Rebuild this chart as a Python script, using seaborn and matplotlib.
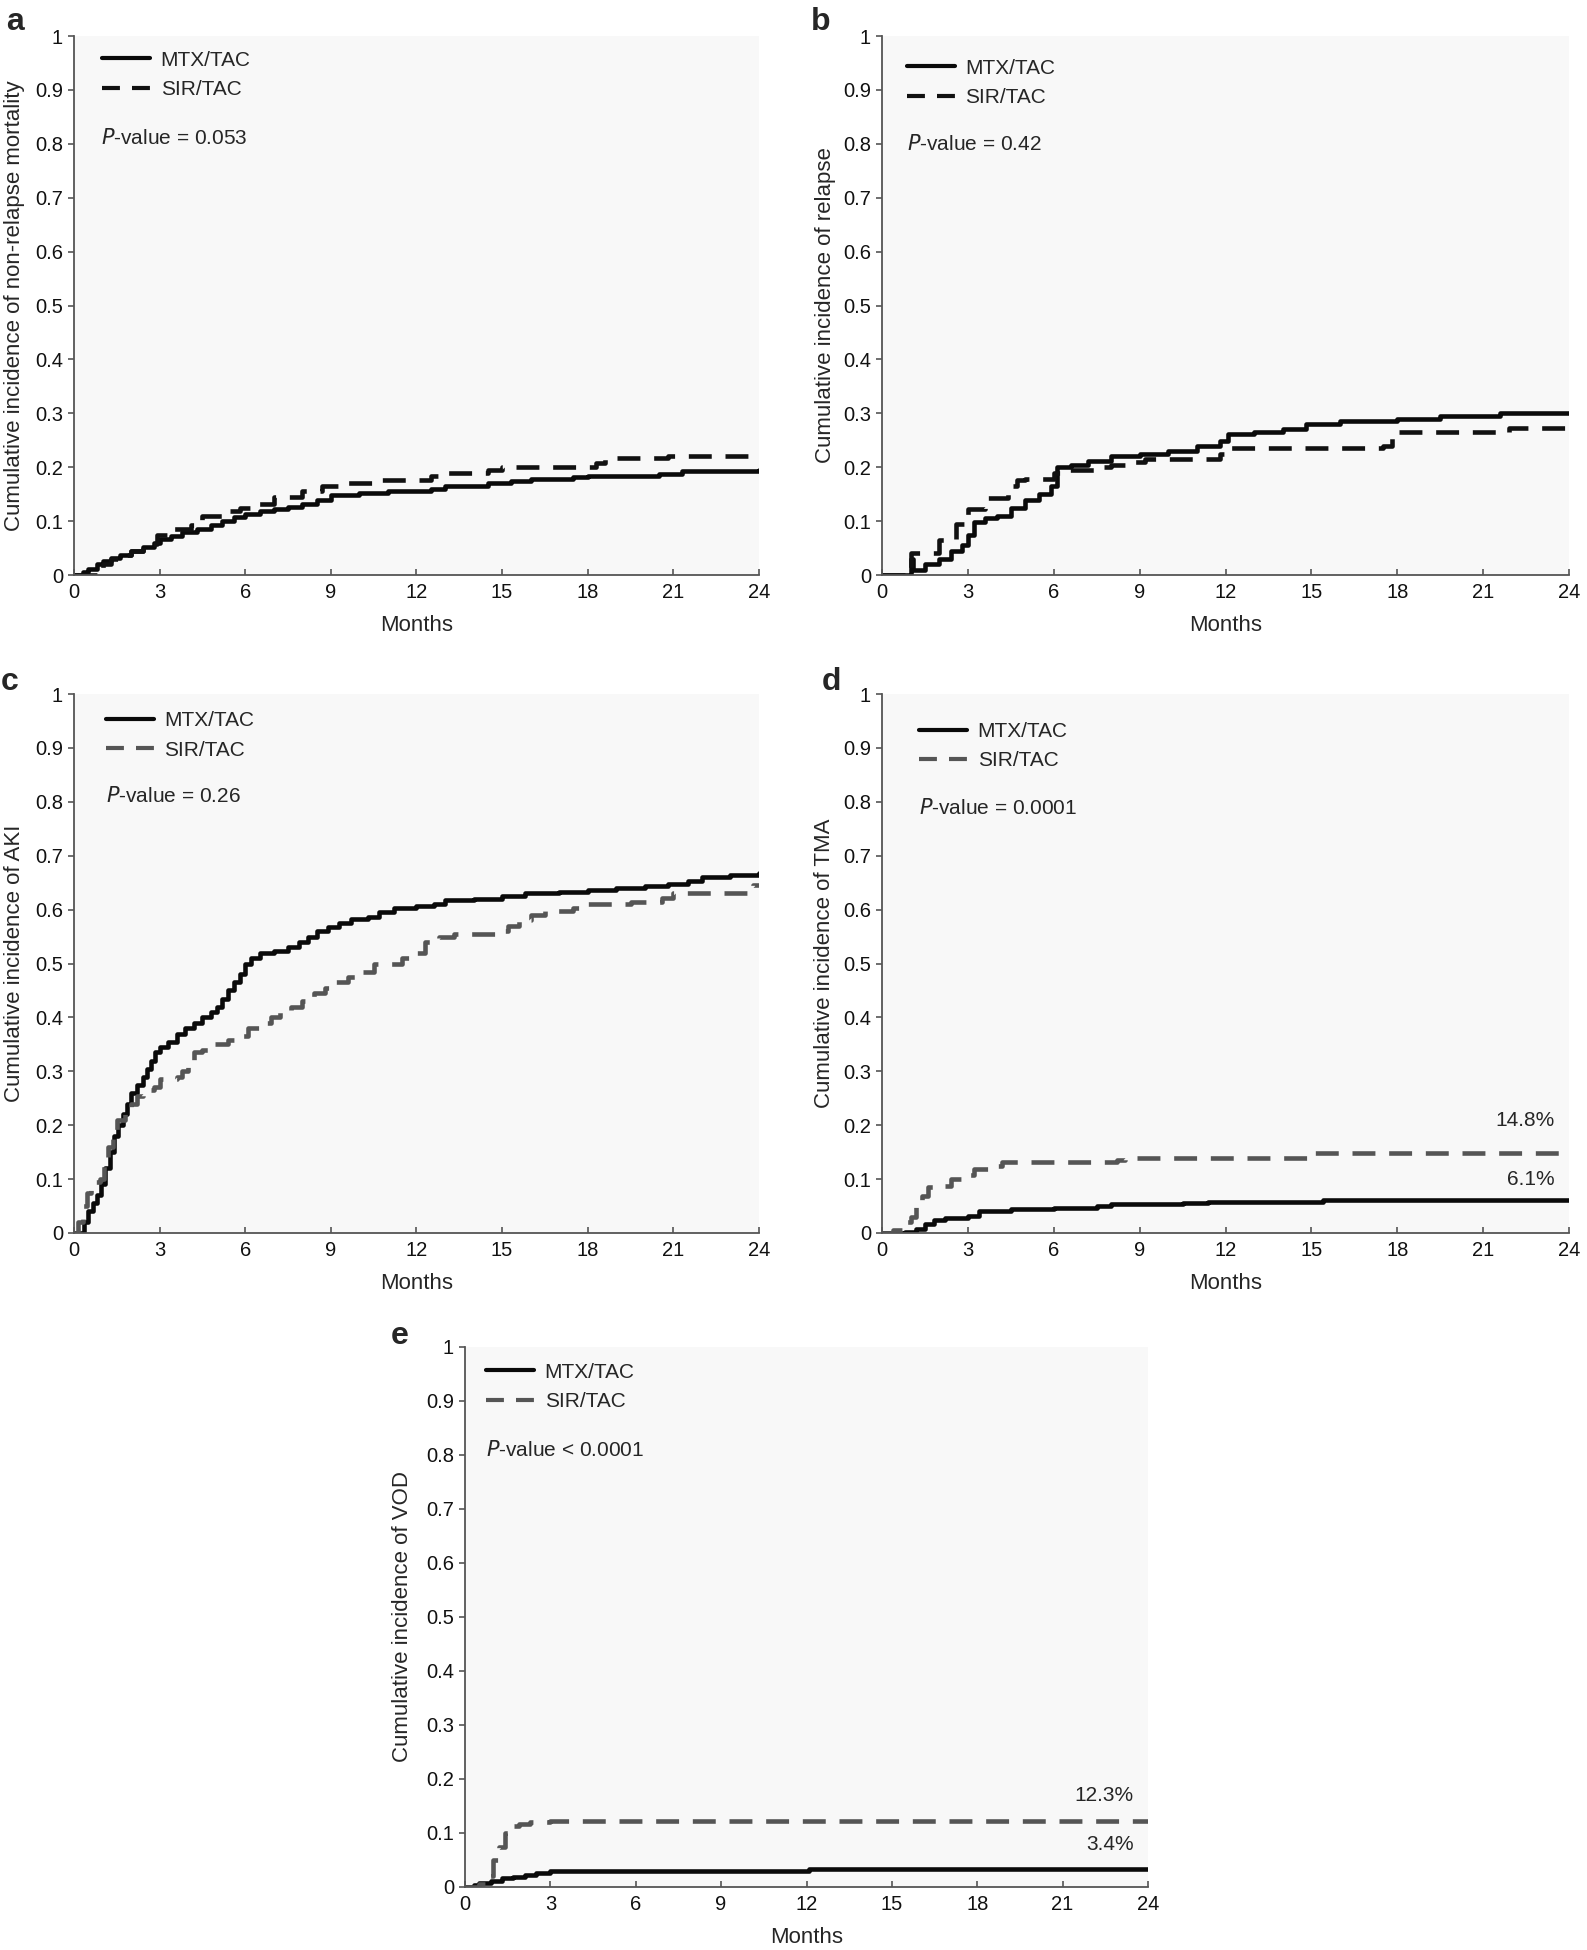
#!/usr/bin/env python3
"""
Incidenza cumulativa MTX/TAC vs SIR/TAC, cinque pannelli a-e.
"""

import matplotlib
matplotlib.use("Agg")
import matplotlib.pyplot as plt
import seaborn as sns

# ---- dati (mesi, incidenza cumulativa) ----
# a: non-relapse mortality
a_mtx_t = [0, 0.3, 0.5, 0.8, 1.0, 1.3, 1.6, 2.0, 2.4, 2.8, 3.0, 3.4, 3.8, 4.3, 4.8, 5.2, 5.6, 6.0,
           6.5, 7.0, 7.5, 8.0, 8.5, 9.0, 10.0, 11.0, 12.5, 13.0, 14.5, 15.3, 16.0, 17.5, 18.0, 20.5, 21.3, 24.0]
a_mtx_y = [0, 0.005, 0.012, 0.02, 0.026, 0.032, 0.038, 0.044, 0.052, 0.06, 0.066, 0.073, 0.079, 0.085,
           0.092, 0.1, 0.107, 0.113, 0.118, 0.122, 0.127, 0.132, 0.14, 0.148, 0.152, 0.156, 0.16, 0.165,
           0.17, 0.175, 0.178, 0.181, 0.184, 0.187, 0.193, 0.195]
a_sir_t = [0, 0.9, 1.0, 1.3, 1.6, 2.0, 2.4, 2.9, 3.5, 4.1, 4.5, 5.3, 5.8, 6.3, 7.0, 8.0, 8.7, 9.3,
           10.5, 12.5, 13.0, 14.5, 15.0, 17.8, 18.3, 18.6, 20.8, 23.6, 24.0]
a_sir_y = [0, 0.008, 0.02, 0.03, 0.037, 0.045, 0.058, 0.075, 0.085, 0.093, 0.11, 0.118, 0.125, 0.132,
           0.145, 0.155, 0.165, 0.17, 0.176, 0.184, 0.19, 0.195, 0.2, 0.2, 0.208, 0.217, 0.22, 0.225, 0.225]

# b: relapse
b_mtx_t = [0, 0.9, 1.0, 1.1, 1.5, 2.0, 2.4, 2.8, 3.0, 3.2, 3.6, 4.0, 4.5, 5.0, 5.5, 5.9, 6.1, 6.6,
           7.2, 8.0, 9.0, 10.0, 11.0, 11.8, 12.1, 13.0, 14.0, 14.8, 16.0, 18.0, 19.5, 21.6, 24.0]
b_mtx_y = [0, 0.0, 0.03, 0.01, 0.02, 0.03, 0.045, 0.055, 0.075, 0.098, 0.105, 0.11, 0.125, 0.14, 0.15,
           0.165, 0.2, 0.205, 0.212, 0.22, 0.225, 0.23, 0.24, 0.248, 0.262, 0.266, 0.27, 0.28, 0.285,
           0.29, 0.295, 0.3, 0.3]
b_sir_t = [0, 0.8, 1.0, 1.5, 2.0, 2.6, 3.0, 3.6, 4.4, 4.7, 5.0, 6.0, 6.5, 7.5, 8.0, 8.5, 9.2,
           11.8, 12.2, 15.0, 17.5, 17.8, 18.0, 21.5, 21.9, 24.0]
b_sir_y = [0, 0.01, 0.04, 0.04, 0.065, 0.095, 0.122, 0.142, 0.165, 0.176, 0.178, 0.19, 0.195, 0.2, 0.205,
           0.21, 0.215, 0.225, 0.236, 0.236, 0.24, 0.255, 0.265, 0.265, 0.273, 0.275]

# c: AKI
c_mtx_t = [0, 0.2, 0.35, 0.5, 0.65, 0.8, 0.95, 1.1, 1.25, 1.4, 1.55, 1.7, 1.85, 2.0, 2.2, 2.4, 2.55,
           2.7, 2.85, 3.0, 3.3, 3.6, 3.9, 4.2, 4.5, 4.8, 5.0, 5.2, 5.4, 5.6, 5.8, 6.0, 6.2, 6.5, 7.0,
           7.5, 7.9, 8.2, 8.5, 8.9, 9.3, 9.7, 10.3, 10.7, 11.2, 12.0, 12.6, 13.0, 14.0, 15.0, 15.8,
           17.0, 18.0, 19.0, 20.0, 20.8, 21.5, 22.0, 23.0, 24.0]
c_mtx_y = [0, 0.0, 0.02, 0.04, 0.055, 0.07, 0.09, 0.12, 0.15, 0.18, 0.2, 0.22, 0.24, 0.26, 0.275,
           0.29, 0.305, 0.32, 0.335, 0.345, 0.355, 0.37, 0.38, 0.39, 0.4, 0.41, 0.42, 0.435, 0.45,
           0.465, 0.48, 0.5, 0.51, 0.52, 0.523, 0.53, 0.54, 0.55, 0.56, 0.568, 0.575, 0.582, 0.587,
           0.595, 0.603, 0.607, 0.61, 0.617, 0.62, 0.625, 0.63, 0.632, 0.636, 0.64, 0.643, 0.648,
           0.653, 0.66, 0.664, 0.668]
c_sir_t = [0, 0.15, 0.3, 0.45, 0.6, 0.9, 1.05, 1.2, 1.35, 1.5, 1.8, 2.0, 2.2, 2.4, 2.8, 3.0, 3.6,
           3.8, 4.0, 4.2, 4.5, 4.9, 5.4, 5.9, 6.1, 6.5, 6.9, 7.2, 7.6, 8.0, 8.4, 8.8, 9.0, 9.6, 10.1,
           10.5, 11.5, 12.0, 12.3, 12.8, 13.3, 14.8, 15.2, 15.6, 16.0, 16.5, 17.5, 18.0, 19.5, 20.6,
           21.0, 23.6, 23.8, 24.0]
c_sir_y = [0, 0.02, 0.05, 0.075, 0.095, 0.1, 0.13, 0.16, 0.19, 0.21, 0.225, 0.24, 0.255, 0.265,
           0.27, 0.285, 0.29, 0.3, 0.32, 0.335, 0.34, 0.35, 0.358, 0.365, 0.38, 0.39, 0.4, 0.41,
           0.42, 0.43, 0.445, 0.455, 0.465, 0.475, 0.485, 0.5, 0.51, 0.52, 0.54, 0.55, 0.555, 0.56,
           0.57, 0.58, 0.59, 0.598, 0.603, 0.61, 0.615, 0.622, 0.63, 0.632, 0.645, 0.645]

# d: TMA
d_mtx_t = [0, 0.8, 1.2, 1.5, 1.8, 2.2, 3.0, 3.4, 4.5, 6.0, 7.5, 8.0, 10.5, 11.4, 15.4, 24.0]
d_mtx_y = [0, 0.002, 0.008, 0.016, 0.025, 0.028, 0.032, 0.04, 0.044, 0.046, 0.05, 0.053, 0.055,
           0.058, 0.061, 0.061]
d_sir_t = [0, 0.4, 0.7, 1.0, 1.2, 1.4, 1.6, 2.0, 2.4, 2.8, 3.2, 3.8, 4.2, 8.2, 8.5, 14.6, 14.9, 24.0]
d_sir_y = [0, 0.005, 0.02, 0.03, 0.05, 0.068, 0.085, 0.088, 0.1, 0.108, 0.118, 0.125, 0.132,
           0.135, 0.14, 0.14, 0.148, 0.148]

# e: VOD
e_mtx_t = [0, 0.3, 0.5, 0.9, 1.3, 1.7, 2.1, 2.5, 3.0, 12.0, 12.1, 24.0]
e_mtx_y = [0, 0.003, 0.007, 0.012, 0.016, 0.019, 0.023, 0.026, 0.03, 0.03, 0.033, 0.034]
e_sir_t = [0, 0.5, 0.8, 1.0, 1.2, 1.4, 1.5, 1.9, 2.3, 3.0, 24.0]
e_sir_y = [0, 0.005, 0.02, 0.05, 0.075, 0.1, 0.113, 0.116, 0.12, 0.123, 0.123]

panel_letters = ["a", "b", "c", "d", "e"]
y_labels = [
    "Cumulative incidence of non-relapse mortality",
    "Cumulative incidence of relapse",
    "Cumulative incidence of AKI",
    "Cumulative incidence of TMA",
    "Cumulative incidence of VOD",
]
p_values = ["0.053", "0.42", "0.26", "0.0001", "0.0001"]
p_signs = ["=", "=", "=", "=", "<"]
series_names = ["MTX/TAC", "SIR/TAC"]
end_labels = [None, None, None, ("14.8%", "6.1%"), ("12.3%", "3.4%")]
end_label_y = [None, None, None, (0.208, 0.10), (0.17, 0.079)]

x_ticks = list(range(0, 25, 3))
y_ticks = [0, 0.1, 0.2, 0.3, 0.4, 0.5, 0.6, 0.7, 0.8, 0.9, 1]
y_tick_labels = ["0", "0.1", "0.2", "0.3", "0.4", "0.5", "0.6", "0.7", "0.8", "0.9", "1"]

curves = [
    (a_mtx_t, a_mtx_y, a_sir_t, a_sir_y),
    (b_mtx_t, b_mtx_y, b_sir_t, b_sir_y),
    (c_mtx_t, c_mtx_y, c_sir_t, c_sir_y),
    (d_mtx_t, d_mtx_y, d_sir_t, d_sir_y),
    (e_mtx_t, e_mtx_y, e_sir_t, e_sir_y),
]

sns.set_style("ticks")
plt.rcParams["font.family"] = ["Liberation Sans", "DejaVu Sans"]

W, H = 1587, 1950
# posizioni dei pannelli in pixel: sinistra, alto, destra, basso
boxes = [
    (74, 36, 759, 575),
    (882, 36, 1569, 575),
    (74, 694, 759, 1233),
    (882, 694, 1569, 1233),
    (465, 1347, 1148, 1887),
]
rects = [[l / W, 1 - b / H, (r - l) / W, (b - t) / H] for l, t, r, b in boxes]
# posizione legenda / p-value (frazione asse)
leg_pos = [(0.02, 1.0), (0.015, 0.985), (0.025, 0.995), (0.033, 0.975), (0.01, 0.998)]
p_pos = [(0.04, 0.81), (0.036, 0.80), (0.047, 0.81), (0.054, 0.788), (0.031, 0.809)]
# centro dell'etichetta y: pixel a sinistra dell'asse
ylab_off = [59, 57, 59, 57, 63]
# lettere dei pannelli (pixel figura)
letter_xy = [(15, 22), (821, 22), (10, 682), (831, 682), (400, 1336)]
sir_colors = ["#111111", "#111111", "#555555", "#555555", "#555555"]

fig = plt.figure(figsize=(W / 100, H / 100), dpi=100)

for i, (mt, my, st, sy) in enumerate(curves):
    ax = fig.add_axes(rects[i])
    ax.set_facecolor("#f8f8f8")
    sns.lineplot(x=mt, y=my, ax=ax, color="#0a0a0a", lw=3.3, drawstyle="steps-post",
                 label=series_names[0], legend=False)
    sns.lineplot(x=st, y=sy, ax=ax, color=sir_colors[i], lw=3.3, drawstyle="steps-post",
                 linestyle=(0, (5.0, 3.0)), label=series_names[1], legend=False)

    ax.set_xlim(0, 24)
    ax.set_ylim(0, 1)
    ax.set_xticks(x_ticks)
    ax.set_yticks(y_ticks)
    ax.set_yticklabels(y_tick_labels)
    ax.tick_params(axis="x", direction="in", length=4, width=1.2, color="#555555",
                   labelsize=14.5, pad=6, labelcolor="#111111")
    ax.tick_params(axis="y", direction="out", length=4.5, width=1.2, color="#555555",
                   labelsize=14.5, pad=3.5, labelcolor="#111111")
    sns.despine(ax=ax)
    for s in ["left", "bottom"]:
        ax.spines[s].set_color("#555555")
        ax.spines[s].set_linewidth(1.3)

    ax.set_xlabel("Months", fontsize=16, labelpad=9)
    ax.set_ylabel(y_labels[i], fontsize=16)
    ax.yaxis.label.set_va("center")
    ax.yaxis.set_label_coords(-ylab_off[i] / (rects[i][2] * W), 0.5)

    leg = ax.legend(loc="upper left", bbox_to_anchor=leg_pos[i], frameon=False, fontsize=15,
                    handlelength=2.3, handletextpad=0.5, labelspacing=0.5, borderaxespad=0.3)
    hl = leg.get_lines()
    hl[0].set_linewidth(3.0)
    hl[1].set_linewidth(3.0)
    hl[1].set_linestyle((0, (4.3, 2.9)))

    ax.text(p_pos[i][0], p_pos[i][1], "$\\mathit{P}$-value " + p_signs[i] + " " + p_values[i],
            transform=ax.transAxes, fontsize=15, va="center", ha="left")

    if end_labels[i] is not None:
        ax.text(23.5, end_label_y[i][0], end_labels[i][0], fontsize=15, ha="right", va="center")
        ax.text(23.5, end_label_y[i][1], end_labels[i][1], fontsize=15, ha="right", va="center")

    # lettera del pannello
    fig.text(letter_xy[i][0] / W, 1 - letter_xy[i][1] / H, panel_letters[i],
             fontsize=23, fontweight="bold", ha="center", va="center")

fig.savefig("out.png", dpi=100)
plt.close(fig)
